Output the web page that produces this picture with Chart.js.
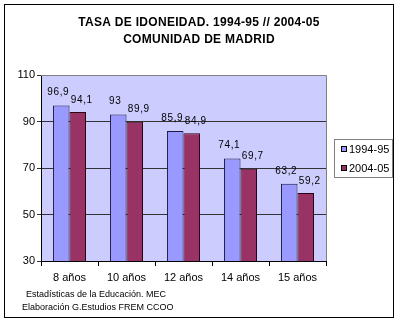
<!DOCTYPE html>
<html>
<head>
<meta charset="utf-8">
<script src="https://cdn.jsdelivr.net/npm/chart.js@4"></script>
<style>
  body { margin: 0; background: #fff; }
  canvas { display: block; }
</style>
</head>
<body>
<canvas id="idoneidadChart" width="400" height="322"></canvas>
<script>
const edades = ['8 años', '10 años', '12 años', '14 años', '15 años'];
const curso1995 = [96.9, 93, 85.9, 74.1, 63.2];
const curso2005 = [94.1, 89.9, 84.9, 69.7, 59.2];
const seriesLabels = ['1994-95', '2004-05'];
const yTicks = [30, 50, 70, 90, 110];
const titleLines = ['TASA DE IDONEIDAD. 1994-95 // 2004-05', 'COMUNIDAD DE MADRID'];
const footerLines = ['Estadísticas de la Educación. MEC', 'Elaboración G.Estudios FREM CCOO'];

const FONT = '"Liberation Sans", Arial, sans-serif';
const fmt = v => String(v).replace('.', ',');

// frame, plot background, titles, footer, legend box and value labels
const marco = {
    id: 'marco',
    beforeDraw(chart) {
        const { ctx, chartArea: a } = chart;
        ctx.save();
        ctx.fillStyle = '#fff';
        ctx.fillRect(0, 0, chart.width, chart.height);
        ctx.fillStyle = '#CCCCFF';
        ctx.fillRect(a.left, a.top, a.right - a.left, a.bottom - a.top);
        ctx.restore();
    },
    afterDatasetsDraw(chart) {
        const { ctx } = chart;
        ctx.save();
        ctx.font = '10px ' + FONT;
        ctx.letterSpacing = '0.6px';
        ctx.fillStyle = '#000';
        ctx.textAlign = 'center';
        ctx.textBaseline = 'middle';
        const m0 = chart.getDatasetMeta(0), m1 = chart.getDatasetMeta(1);
        edades.forEach((_, i) => {
            const b0 = m0.data[i], b1 = m1.data[i];
            const t0 = fmt(chart.data.datasets[0].data[i]);
            const t1 = fmt(chart.data.datasets[1].data[i]);
            const x0 = b0.x - 3, x1 = b1.x + 4;
            let y0 = b0.y - 13;
            const y1 = b1.y - 12;
            const w0 = ctx.measureText(t0).width, w1 = ctx.measureText(t1).width;
            // lift the first label when it would sit on top of the second one
            const overlapX = (x0 + w0 / 2) > (x1 - w1 / 2);
            if (overlapX && Math.abs(y0 - y1) < 11) y0 = y1 - 14;
            ctx.fillText(t0, x0, y0);
            ctx.fillText(t1, x1, y1);
        });
        ctx.restore();
    },
    afterDraw(chart) {
        const { ctx, chartArea: a } = chart;
        ctx.save();
        // top and right edges of the plot
        ctx.strokeStyle = '#808080';
        ctx.lineWidth = 1;
        ctx.beginPath();
        ctx.moveTo(a.left, a.top + 0.5);
        ctx.lineTo(a.right + 0.5, a.top + 0.5);
        ctx.lineTo(a.right + 0.5, a.bottom);
        ctx.stroke();

        // outer frame
        ctx.strokeStyle = '#000';
        ctx.strokeRect(4.5, 4.5, 389, 313);

        // title
        ctx.fillStyle = '#000';
        ctx.textAlign = 'center';
        ctx.textBaseline = 'middle';
        ctx.font = 'bold 12px ' + FONT;
        ctx.letterSpacing = '0.3px';
        titleLines.forEach((t, k) => ctx.fillText(t, 199, 23 + k * 17));
        ctx.letterSpacing = '0px';

        // source notes
        ctx.textAlign = 'left';
        ctx.font = '9px ' + FONT;
        ctx.fillText(footerLines[0], 26, 295);
        ctx.fillText(footerLines[1], 22, 308);

        // legend
        ctx.strokeStyle = '#808080';
        ctx.strokeRect(334.5, 139.5, 58, 38);
        ctx.font = '11px ' + FONT;
        chart.data.datasets.forEach((ds, k) => {
            const cy = 149 + k * 19;
            ctx.fillStyle = ds.backgroundColor;
            ctx.fillRect(341, cy - 3, 6, 6);
            ctx.strokeStyle = '#000';
            ctx.strokeRect(341.5, cy - 2.5, 5, 5);
            ctx.fillStyle = '#000';
            ctx.fillText(ds.label, 349, cy + 0.5);
        });
        ctx.restore();
    }
};

new Chart(document.getElementById('idoneidadChart'), {
    type: 'bar',
    data: {
        labels: edades,
        datasets: [
            { label: seriesLabels[0], data: curso1995, backgroundColor: '#9999FF', borderColor: '#1a1a40', borderWidth: 1 },
            { label: seriesLabels[1], data: curso2005, backgroundColor: '#993366', borderColor: '#2a0010', borderWidth: 1 }
        ]
    },
    options: {
        responsive: false,
        animation: false,
        events: [],
        layout: { padding: { left: 5, top: 75, right: 74, bottom: 31 } },
        datasets: { bar: { categoryPercentage: 0.58, barPercentage: 1.0 } },
        plugins: { legend: { display: false }, tooltip: { enabled: false } },
        scales: {
            x: {
                afterFit(s) { s.height = 30; },
                grid: { offset: true, drawOnChartArea: false, color: '#000', tickLength: 5 },
                border: { color: '#000' },
                ticks: { color: '#000', font: { family: FONT, size: 11 }, padding: 5 }
            },
            y: {
                min: yTicks[0],
                max: yTicks[yTicks.length - 1],
                afterFit(s) { s.width = 36; },
                grid: { color: '#333', tickLength: 4 },
                border: { color: '#000' },
                ticks: { stepSize: yTicks[1] - yTicks[0], color: '#000', font: { family: FONT, size: 11 }, padding: 2 }
            }
        }
    },
    plugins: [marco]
});
</script>
</body>
</html>
